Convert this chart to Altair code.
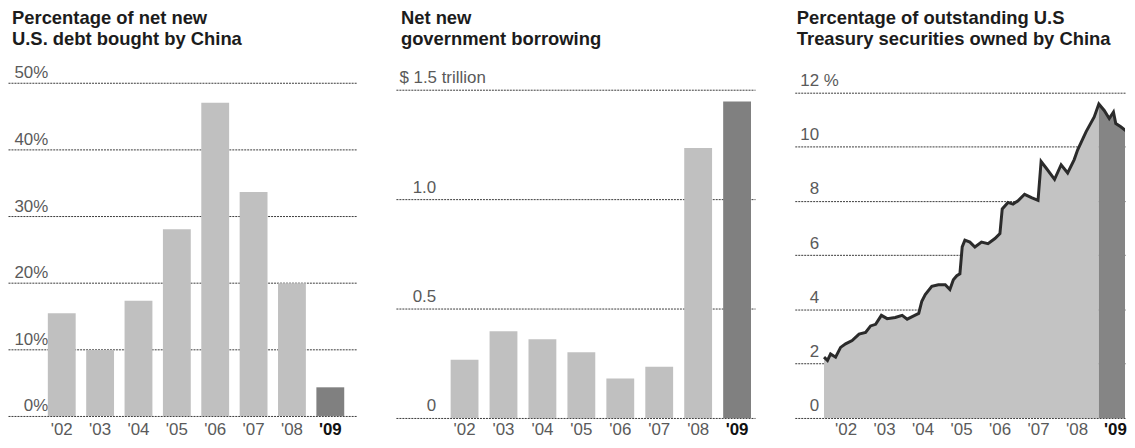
import altair as alt
import pandas as pd

FONT = "Liberation Sans"
LIGHT = "#c0c0c0"
DARK = "#808080"
GRID = "#3a3a3a"
LABEL = "#5a5a5a"

# ---- data ----
years = ["'02", "'03", "'04", "'05", "'06", "'07", "'08", "'09"]
china_share = [15.4, 9.9, 17.3, 28.0, 47.0, 33.6, 19.9, 4.3]
borrowing = [0.266, 0.396, 0.36, 0.30, 0.18, 0.234, 1.234, 1.446]
highlight = ["n", "n", "n", "n", "n", "n", "n", "y"]

own_t = [2001.94, 2002.03, 2002.11, 2002.24, 2002.37, 2002.50, 2002.67, 2002.85,
         2003.02, 2003.15, 2003.28, 2003.43, 2003.58, 2003.79, 2003.97, 2004.10,
         2004.27, 2004.40, 2004.48, 2004.57, 2004.74, 2004.91, 2005.09, 2005.21,
         2005.30, 2005.39, 2005.47, 2005.53, 2005.60, 2005.73, 2005.86, 2006.03,
         2006.20, 2006.38, 2006.51, 2006.57, 2006.72, 2006.85, 2006.98, 2007.15,
         2007.33, 2007.50, 2007.58, 2007.71, 2007.93, 2008.10, 2008.27, 2008.44,
         2008.53, 2008.75, 2008.96, 2009.08, 2009.22, 2009.35, 2009.46, 2009.52,
         2009.65, 2009.87]
own_v = [2.24, 2.12, 2.36, 2.24, 2.60, 2.73, 2.85, 3.09,
         3.15, 3.39, 3.45, 3.78, 3.66, 3.70, 3.78, 3.64,
         3.76, 3.85, 4.30, 4.55, 4.85, 4.91, 4.91, 4.73,
         5.09, 5.24, 5.31, 6.30, 6.55, 6.48, 6.30, 6.48,
         6.42, 6.61, 6.79, 7.70, 7.94, 7.88, 8.00, 8.24,
         8.12, 8.02, 9.45, 9.21, 8.79, 9.33, 9.03, 9.52,
         9.88, 10.55, 11.09, 11.57, 11.33, 11.03, 11.27, 10.85,
         10.73, 10.48]
split_t = 2009.08
year_ticks = [2002.5, 2003.5, 2004.5, 2005.5, 2006.5, 2007.5, 2008.5, 2009.5]

title1 = ["Percentage of net new", "U.S. debt bought by China"]
title2 = ["Net new", "government borrowing"]
title3 = ["Percentage of outstanding U.S", "Treasury securities owned by China"]


def title_layer(lines, dx):
    return alt.Chart(pd.DataFrame({"k": [0]})).mark_text(
        text=lines, align="left", baseline="alphabetic", font=FONT, fontSize=18.5,
        fontWeight="bold", color="#1c1c1c", lineHeight=21.5
    ).encode(x=alt.value(dx), y=alt.value(-59))


def band_x_axis(test, pad):
    return alt.Axis(title=None, labelAngle=0, domain=False, ticks=False, grid=False,
                    labelPadding=pad, labelFontSize=17, labelFont=FONT,
                    labelColor={"condition": {"test": test, "value": "#111111"}, "value": LABEL},
                    labelFontWeight={"condition": {"test": test, "value": "bold"}, "value": "normal"})


def y_axis(values, expr, align, pad, offset):
    return alt.Axis(title=None, values=values, labelExpr=expr, domain=False, ticks=False,
                    grid=True, gridColor=GRID, gridDash=[2, 1], gridWidth=1,
                    labelAlign=align, labelPadding=pad, labelBaseline="alphabetic",
                    labelOffset=offset, labelFlush=False, labelFontSize=17,
                    labelFont=FONT, labelColor=LABEL)


# ---- panel 1 ----
df1 = pd.DataFrame({"year": years, "value": china_share, "hl": highlight})
bars1 = alt.Chart(df1).mark_bar().encode(
    x=alt.X("year:N", sort=years,
            scale=alt.Scale(paddingInner=0.274, paddingOuter=0.674, align=0.77),
            axis=band_x_axis("datum.label == \"'09\"", 6)),
    y=alt.Y("value:Q", scale=alt.Scale(domain=[0, 50], nice=False),
            axis=y_axis([0, 10, 20, 30, 40, 50], "datum.value + '%'", "right", -40, -5)),
    color=alt.Color("hl:N", scale=alt.Scale(domain=["n", "y"], range=[LIGHT, DARK]), legend=None),
)
p1 = alt.layer(bars1, title_layer(title1, 4)).properties(width=350, height=335)

# ---- panel 2 ----
df2 = pd.DataFrame({"year": years, "value": borrowing, "hl": highlight})
bars2 = alt.Chart(df2).mark_bar().encode(
    x=alt.X("year:N", sort=years,
            scale=alt.Scale(paddingInner=0.285, paddingOuter=0.754, align=0.932),
            axis=band_x_axis("datum.label == \"'09\"", 4)),
    y=alt.Y("value:Q", scale=alt.Scale(domain=[0, 1.5316], nice=False),
            axis=y_axis([0, 0.5, 1.0, 1.5],
                        "datum.value == 1.5 ? '$ 1.5 trillion' : (datum.value == 0 ? '0' : format(datum.value, '.1f'))",
                        {"condition": {"test": "datum.value == 1.5", "value": "left"}, "value": "right"},
                        {"condition": {"test": "datum.value == 1.5", "value": -3}, "value": -40},
                        -7)),
    color=alt.Color("hl:N", scale=alt.Scale(domain=["n", "y"], range=[LIGHT, DARK]), legend=None),
)
p2 = alt.layer(bars2, title_layer(title2, 5)).properties(width=361, height=337)

# ---- panel 3 ----
df3 = pd.DataFrame({"t": own_t, "v": own_v})
x3 = alt.X("t:Q", scale=alt.Scale(domain=[2001.18, 2009.76], nice=False, zero=False),
           axis=alt.Axis(title=None, values=year_ticks,
                         labelExpr="\"'\" + format(floor(datum.value) % 100, '02')",
                         domain=False, ticks=False, grid=False, labelPadding=4,
                         labelFontSize=17, labelFont=FONT, labelFlush=False,
                         labelColor={"condition": {"test": "datum.value > 2009", "value": "#111111"}, "value": LABEL},
                         labelFontWeight={"condition": {"test": "datum.value > 2009", "value": "bold"}, "value": "normal"}))
y3 = alt.Y("v:Q", scale=alt.Scale(domain=[0, 12.35], nice=False),
           axis=y_axis([0, 2, 4, 6, 8, 10, 12],
                       "datum.value == 12 ? '12 %' : datum.label",
                       {"condition": {"test": "datum.value == 12", "value": "left"}, "value": "right"},
                       {"condition": {"test": "datum.value == 12", "value": -5}, "value": -24},
                       -7))
base3 = alt.Chart(df3)
area_light = base3.transform_filter(f"datum.t <= {split_t}").mark_area(
    color="#c3c3c3", clip=True).encode(x=x3, y=y3)
area_dark = base3.transform_filter(f"datum.t >= {split_t}").mark_area(
    color="#858585", clip=True).encode(x=x3, y=y3)
line3 = base3.mark_line(color="#2b2b2b", strokeWidth=3, clip=True).encode(x=x3, y=y3)
p3 = alt.layer(area_light, area_dark, line3, title_layer(title3, 2)).properties(
    width=332, height=337)

chart = alt.hconcat(p1, p2, p3, spacing=40, bounds="flush").properties(
    padding=0
).configure(background="white").configure_view(stroke=None)

chart.save("out.html", embed_options={"renderer": "svg", "actions": False})
